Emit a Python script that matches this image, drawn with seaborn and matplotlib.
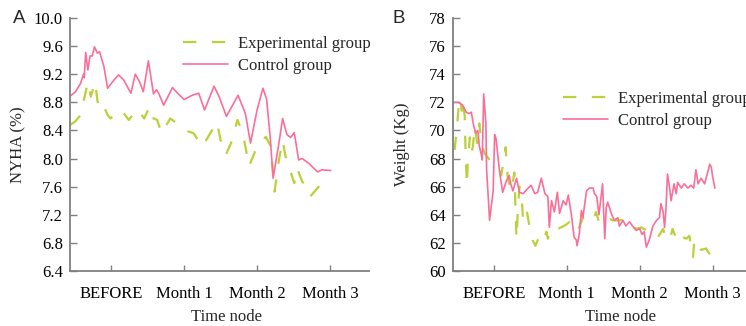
import numpy as np
import pandas as pd
import matplotlib
matplotlib.use("Agg")
import matplotlib.pyplot as plt
import seaborn as sns

sns.set_theme(style="ticks")
plt.rcParams["font.family"] = ["Liberation Serif", "DejaVu Serif"]

# x positions: 0 = BEFORE, 1..3 = Month 1..3
tick_labels = ["BEFORE", "Month 1", "Month 2", "Month 3"]
groups = ["Experimental group", "Control group"]

# Panel A - NYHA (%)
nyha_exp_t = [-0.56, -0.49, -0.42, -0.38, -0.32, -0.28, -0.24, -0.22, -0.19, -0.16,
              -0.10, -0.05, -0.01, 0.06, 0.14, 0.24, 0.31, 0.37, 0.45, 0.53,
              0.58, 0.63, 0.69, 0.81, 0.93, 1.02, 1.13, 1.25, 1.37, 1.45,
              1.50, 1.57, 1.66, 1.73, 1.80, 1.84, 1.89, 1.98, 2.12, 2.19,
              2.24, 2.30, 2.35, 2.39, 2.46, 2.51, 2.55, 2.62, 2.69, 2.73,
              2.87, 2.92, 3.01]
nyha_exp = [8.48, 8.53, 8.62, 8.81, 9.09, 8.88, 9.02, 9.09, 8.83, 8.69,
            8.74, 8.62, 8.57, 8.64, 8.69, 8.55, 8.64, 8.70, 8.57, 8.74,
            8.57, 8.55, 8.36, 8.57, 8.48, 8.40, 8.36, 8.17, 8.38, 8.52,
            8.26, 8.05, 8.26, 8.55, 8.38, 8.17, 7.89, 8.12, 8.31, 8.17,
            7.53, 7.98, 8.26, 8.03, 7.81, 7.65, 7.86, 7.67, 7.60, 7.46,
            7.63, 7.64, 7.61]
nyha_ctrl_t = [-0.56, -0.49, -0.42, -0.38, -0.37, -0.35, -0.32, -0.29, -0.26, -0.23,
               -0.19, -0.16, -0.10, -0.05, 0.04, 0.10, 0.17, 0.27, 0.33, 0.39,
               0.44, 0.51, 0.55, 0.58, 0.62, 0.65, 0.72, 0.84, 0.91, 1.00,
               1.11, 1.20, 1.28, 1.41, 1.48, 1.58, 1.74, 1.84, 1.91, 2.00,
               2.08, 2.13, 2.18, 2.22, 2.30, 2.35, 2.41, 2.46, 2.51, 2.57,
               2.62, 2.71, 2.83, 2.89, 3.01]
nyha_ctrl = [8.89, 8.95, 9.07, 9.20, 9.15, 9.51, 9.26, 9.46, 9.46, 9.59,
             9.50, 9.52, 9.31, 9.00, 9.12, 9.19, 9.12, 8.93, 9.20, 9.09,
             8.95, 9.39, 9.12, 8.92, 8.98, 8.93, 8.76, 9.01, 8.93, 8.84,
             8.90, 8.93, 8.69, 9.03, 8.88, 8.60, 8.90, 8.64, 8.22, 8.69,
             9.00, 8.85, 8.31, 7.72, 8.22, 8.57, 8.34, 8.30, 8.37, 7.98,
             8.00, 7.93, 7.81, 7.84, 7.83]

# Panel B - Weight (Kg)
weight_exp_t = [-0.54, -0.51, -0.48, -0.46, -0.44, -0.43, -0.40, -0.39, -0.37, -0.36,
                -0.33, -0.31, -0.29, -0.26, -0.23, -0.20, -0.17, -0.13, -0.06, -0.01,
                0.06, 0.10, 0.12, 0.16, 0.19, 0.24, 0.28, 0.31, 0.33, 0.35,
                0.38, 0.40, 0.42, 0.45, 0.49, 0.53, 0.57, 0.60, 0.65, 0.67,
                0.72, 0.74, 0.79, 0.83, 0.88, 0.92, 0.99, 1.04, 1.08, 1.13,
                1.17, 1.22, 1.27, 1.36, 1.40, 1.45, 1.59, 1.63, 1.72, 1.81,
                1.86, 1.95, 2.02, 2.09, 2.18, 2.25, 2.32, 2.36, 2.41, 2.45,
                2.52, 2.59, 2.64, 2.68, 2.73, 2.75, 2.80, 2.84, 2.91, 2.98,
                3.05, 3.12]
weight_exp = [68.6, 70.0, 71.9, 72.3, 71.4, 72.3, 71.0, 68.8, 66.1, 67.6,
              69.5, 68.4, 68.8, 70.3, 69.1, 70.5, 69.1, 68.4, 67.9, 67.6,
              67.4, 66.8, 67.4, 68.8, 66.6, 65.7, 67.0, 62.3, 64.5, 66.0,
              65.3, 63.6, 64.1, 64.3, 63.1, 62.2, 61.8, 62.2, 62.3, 62.0,
              62.8, 62.3, 63.0, 63.1, 63.0, 63.1, 63.3, 63.5, 63.2, 62.8,
              63.1, 63.8, 63.5, 63.6, 64.2, 63.3, 63.7, 63.6, 63.6, 63.7,
              63.2, 63.0, 63.1, 62.9, 62.8, 62.4, 63.0, 62.3, 62.2, 63.0,
              62.0, 62.4, 62.3, 62.5, 61.0, 62.2, 62.1, 61.5, 61.6, 61.0,
              61.2, 61.2]
weight_ctrl_t = [-0.56, -0.49, -0.43, -0.38, -0.34, -0.31, -0.28, -0.25, -0.22, -0.20,
                 -0.17, -0.16, -0.14, -0.11, -0.10, -0.07, -0.06, -0.01, 0.01, 0.03,
                 0.06, 0.08, 0.12, 0.17, 0.21, 0.23, 0.26, 0.31, 0.35, 0.40,
                 0.47, 0.51, 0.56, 0.60, 0.65, 0.70, 0.74, 0.76, 0.79, 0.83,
                 0.87, 0.90, 0.95, 0.99, 1.02, 1.06, 1.10, 1.13, 1.14, 1.17,
                 1.20, 1.22, 1.27, 1.31, 1.36, 1.38, 1.41, 1.44, 1.47, 1.49,
                 1.52, 1.54, 1.56, 1.61, 1.65, 1.70, 1.72, 1.77, 1.81, 1.86,
                 1.90, 1.95, 2.00, 2.03, 2.06, 2.09, 2.13, 2.18, 2.23, 2.27,
                 2.29, 2.32, 2.34, 2.36, 2.38, 2.41, 2.43, 2.47, 2.50, 2.52,
                 2.57, 2.61, 2.66, 2.70, 2.74, 2.77, 2.80, 2.84, 2.89, 2.92,
                 2.96, 2.98, 3.00, 3.03]
weight_ctrl = [72.0, 72.0, 71.8, 71.3, 71.2, 71.3, 70.4, 69.8, 70.0, 68.9,
               68.2, 67.9, 72.6, 70.5, 67.2, 64.6, 63.6, 65.7, 69.7, 69.4,
               67.9, 67.0, 65.6, 66.4, 66.8, 66.2, 65.7, 66.6, 65.6, 65.5,
               65.9, 66.1, 65.5, 65.6, 66.6, 65.5, 65.3, 63.1, 65.0, 64.2,
               65.6, 64.1, 65.0, 64.7, 65.4, 64.1, 62.4, 62.2, 61.8, 62.6,
               64.3, 63.8, 65.7, 65.9, 65.9, 65.5, 65.3, 64.0, 65.3, 66.2,
               62.3, 64.5, 64.9, 64.1, 63.6, 63.8, 63.2, 63.6, 63.2, 63.5,
               63.2, 62.9, 63.0, 62.6, 62.8, 61.7, 62.2, 63.2, 63.6, 63.8,
               64.8, 64.2, 63.1, 64.5, 66.9, 65.9, 65.0, 66.2, 65.5, 66.3,
               65.9, 66.2, 65.9, 66.1, 65.9, 67.2, 66.2, 66.6, 66.2, 66.8,
               67.6, 67.4, 66.7, 65.9]


def long_df(t_exp, v_exp, t_ctrl, v_ctrl):
    a = pd.DataFrame({"time": t_exp, "value": v_exp, "group": groups[0]})
    b = pd.DataFrame({"time": t_ctrl, "value": v_ctrl, "group": groups[1]})
    return pd.concat([a, b], ignore_index=True)


df_a = long_df(nyha_exp_t, nyha_exp, nyha_ctrl_t, nyha_ctrl)
df_b = long_df(weight_exp_t, weight_exp, weight_ctrl_t, weight_ctrl)

palette = {groups[0]: "#bdd03a", groups[1]: "#fa6f98"}
dashes = {groups[0]: (6, 7), groups[1]: ""}
widths = {groups[0]: 1.6, groups[1]: 1.2}
axis_grey = "#808080"

W, H = 746, 326
fig = plt.figure(figsize=(W / 100, H / 100), dpi=100)
ax_a = fig.add_axes([70 / W, 55 / H, 299 / W, 253 / H])
ax_b = fig.add_axes([452.7 / W, 55 / H, 299 / W, 253 / H])

panels = [
    (ax_a, df_a, "NYHA (%)", np.arange(6.4, 10.01, 0.4), (6.4, 10.0), "%.1f",
     (183 / W, 1 - 36 / H), "A", 18.8, -0.145, 0.522),
    (ax_b, df_b, "Weight (Kg)", np.arange(60, 78.1, 2), (60, 78), "%d",
     (563 / W, 1 - 91 / H), "B", 398.3, -0.143, 0.560),
]

for ax, df, ylab, yticks, ylim, fmt, leg_pos, letter, letter_x, ylab_x, xlab_x in panels:
    sns.lineplot(data=df, x="time", y="value", hue="group", style="group",
                 hue_order=groups, style_order=groups, palette=palette,
                 dashes=dashes, estimator=None, sort=False, ax=ax)
    for line, g in zip(ax.lines, groups):
        line.set_linewidth(widths[g])

    ax.set_xlim(-0.565, 3.535)
    ax.set_ylim(*ylim)
    ax.set_xticks(range(4))
    ax.set_xticklabels(tick_labels)
    ax.set_yticks(yticks)
    ax.set_yticklabels([fmt % v for v in yticks])
    ax.set_xlabel("Time node", fontsize=12)
    ax.set_ylabel(ylab, fontsize=12)
    ax.xaxis.set_label_coords(xlab_x, -0.15)
    ax.yaxis.set_label_coords(ylab_x, 0.5)

    sns.despine(ax=ax)
    for s in ["left", "bottom"]:
        ax.spines[s].set_color(axis_grey)
        ax.spines[s].set_linewidth(1.3)
    ax.tick_params(axis="both", direction="in", color=axis_grey, width=1.0,
                   labelsize=12, labelcolor="black")
    ax.tick_params(axis="x", length=4, pad=11)
    ax.tick_params(axis="y", length=5, pad=5)

    sns.move_legend(ax, "upper left", bbox_to_anchor=leg_pos,
                    bbox_transform=fig.transFigure, title=None, frameon=False,
                    fontsize=12, handlelength=2.7, handletextpad=0.6,
                    labelspacing=0.35, borderpad=0, borderaxespad=0)
    leg = ax.get_legend()
    for h, g in zip(leg.legend_handles, groups):
        h.set_linewidth(widths[g])

    fig.text(letter_x / W, 1 - 18.3 / H, letter, ha="center", va="center",
             fontsize=13.5, family=["Liberation Sans", "DejaVu Sans"])

fig.savefig("out.png", dpi=100)
